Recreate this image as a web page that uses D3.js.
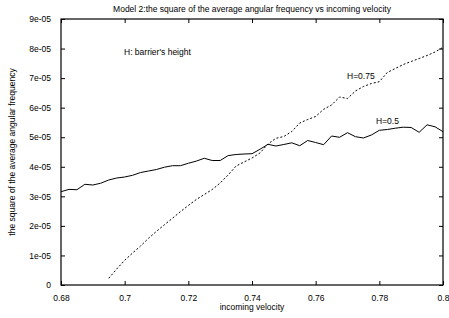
<!DOCTYPE html>
<html>
<head>
<meta charset="utf-8">
<script src="https://cdn.jsdelivr.net/npm/d3@7"></script>
<style>
  body { margin: 0; background: #fff; }
  svg { font-family: "Liberation Sans", Arial, sans-serif; }
</style>
</head>
<body>
<div id="chart"></div>
<script>
// x grid: 0.68 .. 0.80 step 0.0025
var velocity = d3.range(49).map(function(i){ return +(0.68 + i * 0.0025).toFixed(4); });

// H=0.5 (solid), units of 1e-5
var h05 = [3.157, 3.235, 3.224, 3.407, 3.383, 3.444, 3.553, 3.620, 3.654, 3.712,
           3.806, 3.857, 3.908, 3.986, 4.036, 4.036, 4.118, 4.192, 4.287, 4.212,
           4.212, 4.378, 4.415, 4.432, 4.442, 4.591, 4.760, 4.703, 4.754, 4.811,
           4.713, 4.889, 4.821, 4.747, 5.041, 4.997, 5.153, 5.018, 4.974, 5.075,
           5.234, 5.261, 5.305, 5.339, 5.329, 5.166, 5.420, 5.353, 5.187];

// H=0.75 (dashed), starts at 0.695
var h075Start = 6;
var h075 = [0.227, 0.541, 0.836, 1.083, 1.320, 1.580, 1.817, 2.040, 2.257, 2.480,
            2.690, 2.893, 3.062, 3.231, 3.451, 3.722, 4.026, 4.162, 4.297, 4.466,
            4.771, 4.963, 5.024, 5.194, 5.481, 5.600, 5.701, 5.945, 6.090, 6.361,
            6.311, 6.564, 6.716, 6.818, 6.878, 7.190, 7.325, 7.460, 7.562, 7.663,
            7.765, 7.883, 8.042];

var xTicks = [0.68, 0.7, 0.72, 0.74, 0.76, 0.78, 0.8];
var yTicks = [0, 1e-5, 2e-5, 3e-5, 4e-5, 5e-5, 6e-5, 7e-5, 8e-5, 9e-5];

var width = 449, height = 318;
var margin = {top: 19, right: 6, bottom: 33, left: 61};

var svg = d3.select("#chart").append("svg")
    .attr("width", width)
    .attr("height", height);

var x = d3.scaleLinear().domain([0.68, 0.8]).range([margin.left, width - margin.right]);
var y = d3.scaleLinear().domain([0, 9e-5]).range([height - margin.bottom, margin.top]);

function yFmt(d) {
    if (d === 0) return "0";
    var m = Math.round(d * 1e5);
    return m + "e-05";
}
function xFmt(d) {
    return String(+d.toFixed(2));
}

var tickLen = 4;
var fontSize = 8.5;

// axes with inward ticks
svg.append("g")
    .attr("transform", "translate(0," + y(0) + ")")
    .call(d3.axisBottom(x).tickValues(xTicks).tickSize(-tickLen).tickPadding(6 + tickLen).tickFormat(xFmt))
    .call(function(g){ g.select(".domain").remove(); });

svg.append("g")
    .attr("transform", "translate(0," + y(9e-5) + ")")
    .call(d3.axisTop(x).tickValues(xTicks).tickSize(-tickLen).tickFormat(""))
    .call(function(g){ g.select(".domain").remove(); });

svg.append("g")
    .attr("transform", "translate(" + x(0.68) + ",0)")
    .call(d3.axisLeft(y).tickValues(yTicks).tickSize(-tickLen).tickPadding(6 + tickLen).tickFormat(yFmt))
    .call(function(g){ g.select(".domain").remove(); });

svg.append("g")
    .attr("transform", "translate(" + x(0.8) + ",0)")
    .call(d3.axisRight(y).tickValues(yTicks).tickSize(-tickLen).tickFormat(""))
    .call(function(g){ g.select(".domain").remove(); });

svg.selectAll(".tick text")
    .attr("font-size", fontSize)
    .attr("font-family", "'Liberation Sans', Arial, sans-serif")
    .attr("fill", "#000");
svg.selectAll(".tick line").attr("stroke", "#000");

// frame
svg.append("rect")
    .attr("x", x(0.68))
    .attr("y", y(9e-5))
    .attr("width", x(0.8) - x(0.68))
    .attr("height", y(0) - y(9e-5))
    .attr("fill", "none")
    .attr("stroke", "#000")
    .attr("stroke-width", 1.2);

var line = d3.line()
    .x(function(d){ return x(d[0]); })
    .y(function(d){ return y(d[1] * 1e-5); });

var solidData = velocity.map(function(v, i){ return [v, h05[i]]; });
var dashedData = h075.map(function(v, i){ return [velocity[i + h075Start], v]; });

svg.append("path")
    .datum(solidData)
    .attr("d", line)
    .attr("fill", "none")
    .attr("stroke", "#000")
    .attr("stroke-width", 1);

svg.append("path")
    .datum(dashedData)
    .attr("d", line)
    .attr("fill", "none")
    .attr("stroke", "#000")
    .attr("stroke-width", 1)
    .attr("stroke-dasharray", "2,2");

// texts
svg.append("text")
    .attr("x", 252).attr("y", 12)
    .attr("text-anchor", "middle")
    .attr("font-size", fontSize)
    .text("Model 2:the square of the average angular frequency vs incoming velocity");

svg.append("text")
    .attr("x", 252).attr("y", 310)
    .attr("text-anchor", "middle")
    .attr("font-size", fontSize)
    .text("incoming velocity");

svg.append("text")
    .attr("transform", "translate(15,152) rotate(-90)")
    .attr("text-anchor", "middle")
    .attr("font-size", fontSize)
    .text("the square of the average angular frequency");

svg.append("text")
    .attr("x", 124).attr("y", 55)
    .attr("font-size", fontSize)
    .text("H: barrier's height");

svg.append("text")
    .attr("x", 347).attr("y", 79)
    .attr("font-size", fontSize)
    .text("H=0.75");

svg.append("text")
    .attr("x", 376).attr("y", 124)
    .attr("font-size", fontSize)
    .text("H=0.5");
</script>
</body>
</html>
